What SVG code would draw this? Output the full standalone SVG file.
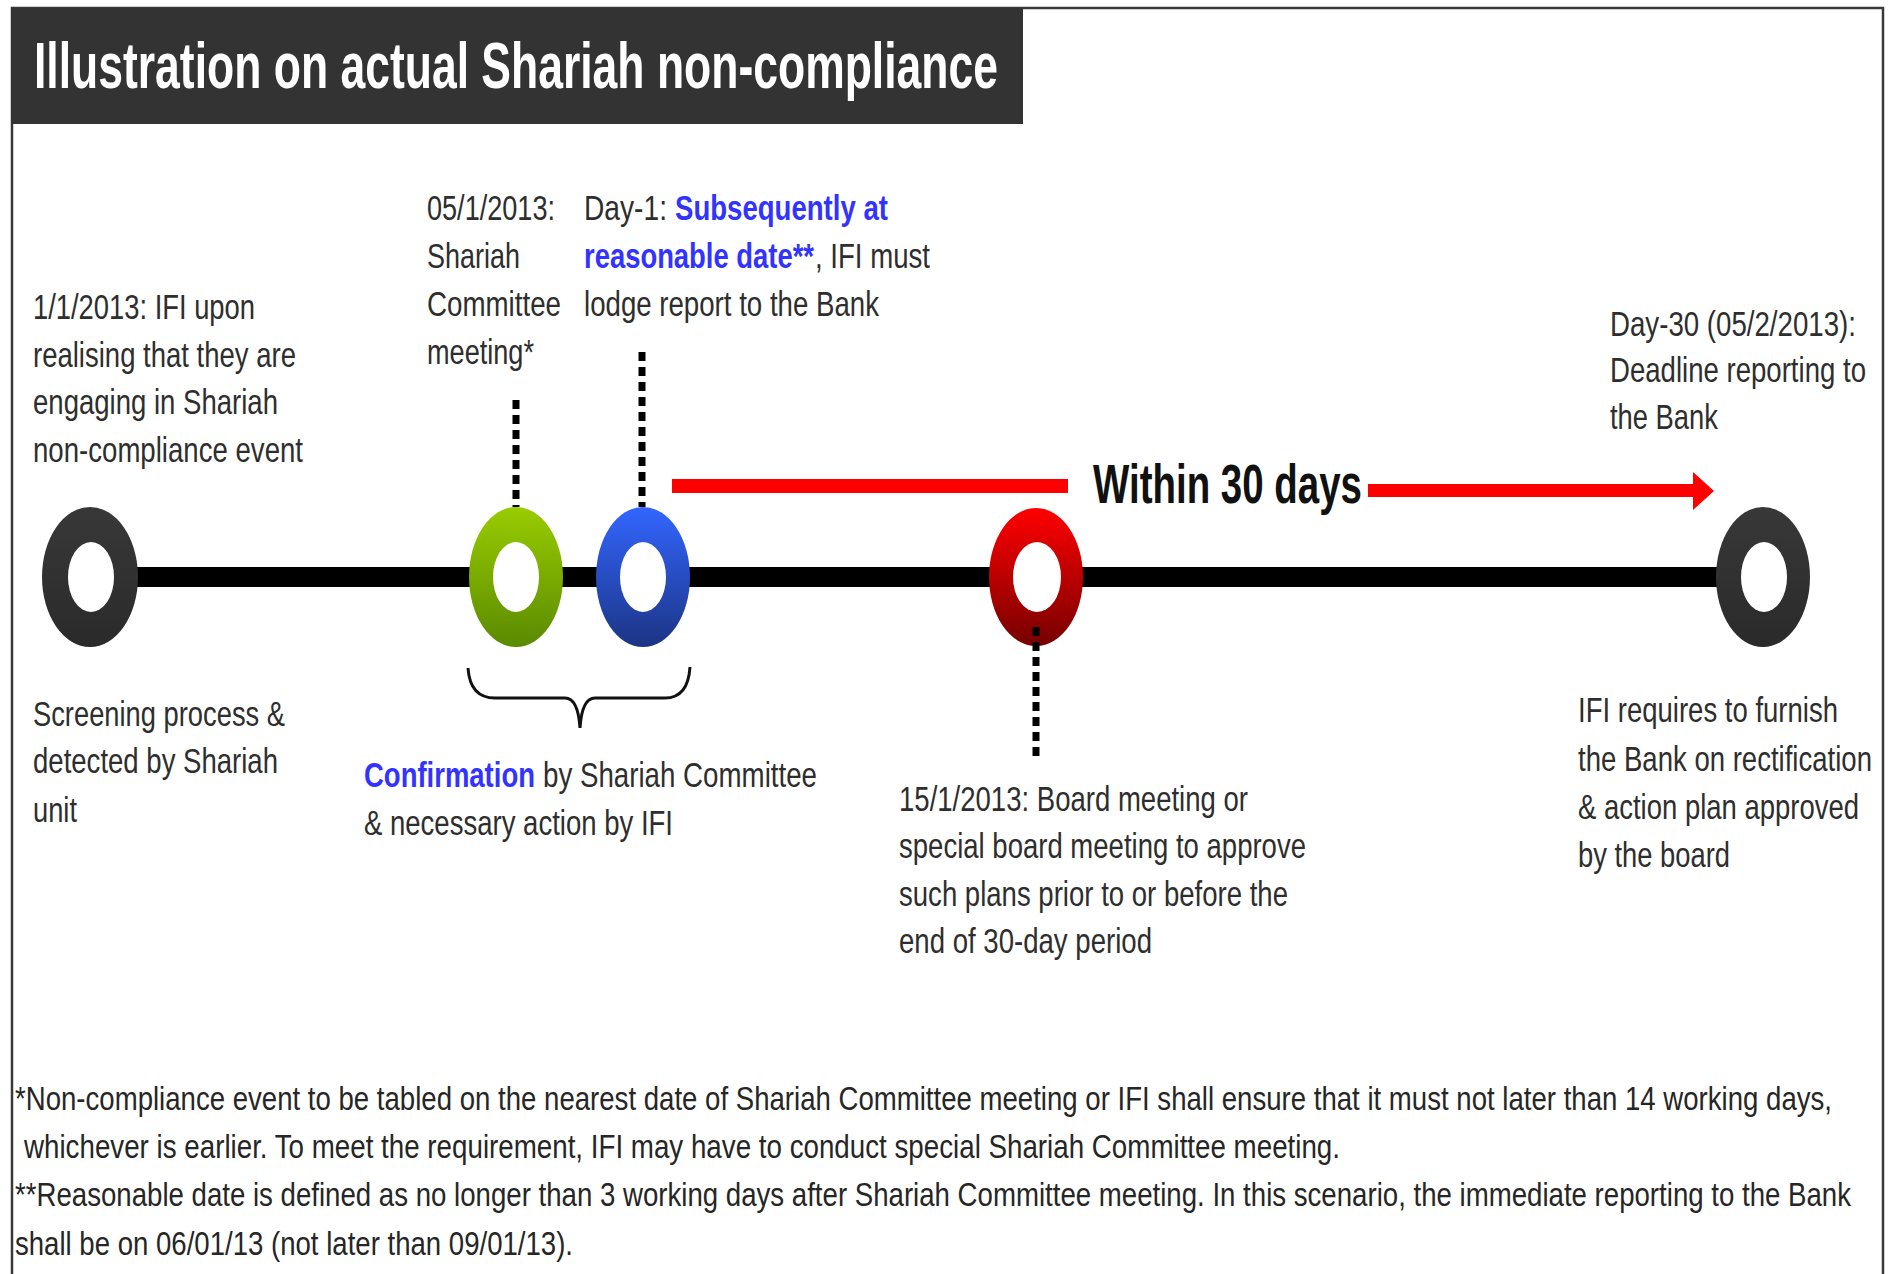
<svg xmlns="http://www.w3.org/2000/svg" width="1890" height="1274" viewBox="0 0 1890 1274">
<defs>
<style>
.t{font-family:"Liberation Sans",Arial,sans-serif;font-size:35px;fill:#2e2e2e}
.b{font-weight:bold;fill:#3333ff}
.fn{font-family:"Liberation Sans",Arial,sans-serif;font-size:33px;fill:#262626}
.dot{stroke:#000;stroke-width:7;stroke-dasharray:9 6;fill:none}
.hole{fill:#fff}
</style>
<linearGradient id="gGreen" x1="0" y1="0" x2="0" y2="1"><stop offset="0" stop-color="#9c0"/><stop offset="1" stop-color="#5a8a00"/></linearGradient>
<linearGradient id="gBlue" x1="0" y1="0" x2="0" y2="1"><stop offset="0" stop-color="#3366ff"/><stop offset="1" stop-color="#1c3484"/></linearGradient>
<linearGradient id="gRed" x1="0" y1="0" x2="0" y2="1"><stop offset="0" stop-color="#ff0000"/><stop offset="1" stop-color="#760000"/></linearGradient>
<linearGradient id="gBlack" x1="0" y1="0" x2="0" y2="1"><stop offset="0" stop-color="#383838"/><stop offset="1" stop-color="#2a2a2a"/></linearGradient>
</defs>
<rect x="0" y="0" width="1890" height="1274" fill="#fff"/>
<g id="frame" fill="none" stroke="#3a3a3a" stroke-width="2.5">
<path d="M12,1274 V8 H1883 V1274"/>
</g>
<g id="title">
<rect x="11" y="8" width="1012" height="116" fill="#333"/>
<g transform="scale(0.57,1)">
<text x="59.65" y="88" font-family="Liberation Sans,Arial,sans-serif" font-weight="bold" font-size="65" fill="#fff" textLength="1691.2" lengthAdjust="spacingAndGlyphs">Illustration on actual Shariah non-compliance</text>
</g>
</g>
<g id="connectors">
<rect id="timeline" x="118" y="567" width="1625" height="20" fill="#000"/>
<rect x="672" y="479" width="396" height="14" fill="#f00"/>
<path d="M1368,484 H1693 V472 L1714,491 L1693,510 V497 H1368 Z" fill="#f00"/>
<path d="M468,668 Q470,698 495,698 L565,698 Q578,698 580,728 Q582,698 595,698 L665,698 Q688,698 690,667" fill="none" stroke="#111" stroke-width="3"/>
</g>
<g id="n-start">
<ellipse cx="90" cy="577" rx="48" ry="70" fill="url(#gBlack)"/>
<ellipse class="hole" cx="91" cy="577" rx="23" ry="35"/>
<g transform="scale(0.75,1)">
<text class="t" x="44" y="319" textLength="296" lengthAdjust="spacingAndGlyphs">1/1/2013: IFI upon</text>
<text class="t" x="44" y="367" textLength="350.67" lengthAdjust="spacingAndGlyphs">realising that they are</text>
<text class="t" x="44" y="414" textLength="326.67" lengthAdjust="spacingAndGlyphs">engaging in Shariah</text>
<text class="t" x="44" y="462" textLength="360" lengthAdjust="spacingAndGlyphs">non-compliance event</text>
<text class="t" x="44" y="726" textLength="336" lengthAdjust="spacingAndGlyphs">Screening process &amp;</text>
<text class="t" x="44" y="773" textLength="326.67" lengthAdjust="spacingAndGlyphs">detected by Shariah</text>
<text class="t" x="44" y="822" textLength="58.67" lengthAdjust="spacingAndGlyphs">unit</text>
</g>
</g>
<g id="n-committee">
<ellipse cx="516" cy="577" rx="47" ry="70" fill="url(#gGreen)"/>
<ellipse class="hole" cx="516" cy="577" rx="23" ry="35"/>
<line class="dot" x1="516" y1="400" x2="516" y2="507"/>
<g transform="scale(0.75,1)">
<text class="t" x="569.33" y="220" textLength="170.67" lengthAdjust="spacingAndGlyphs">05/1/2013:</text>
<text class="t" x="569.33" y="268" textLength="124" lengthAdjust="spacingAndGlyphs">Shariah</text>
<text class="t" x="569.33" y="316" textLength="178.67" lengthAdjust="spacingAndGlyphs">Committee</text>
<text class="t" x="569.33" y="364" textLength="142.67" lengthAdjust="spacingAndGlyphs">meeting*</text>
</g>
</g>
<g id="n-report">
<ellipse cx="643" cy="577" rx="47" ry="70" fill="url(#gBlue)"/>
<ellipse class="hole" cx="643" cy="577" rx="23" ry="35"/>
<line class="dot" x1="642" y1="352" x2="642" y2="507"/>
<g transform="scale(0.75,1)">
<text class="t" x="778.67" y="220" textLength="110.67" lengthAdjust="spacingAndGlyphs">Day-1:</text>
<text class="t b" x="900" y="220" textLength="284" lengthAdjust="spacingAndGlyphs">Subsequently at</text>
<text class="t b" x="778.67" y="268" textLength="306.67" lengthAdjust="spacingAndGlyphs">reasonable date**</text>
<text class="t" x="1086.67" y="268" textLength="153.33" lengthAdjust="spacingAndGlyphs">, IFI must</text>
<text class="t" x="778.67" y="316" textLength="393.33" lengthAdjust="spacingAndGlyphs">lodge report to the Bank</text>
</g>
</g>
<g id="n-confirmation">
<g transform="scale(0.75,1)">
<text class="t b" x="485.33" y="787" textLength="228" lengthAdjust="spacingAndGlyphs">Confirmation</text>
<text class="t" x="724" y="787" textLength="365.33" lengthAdjust="spacingAndGlyphs">by Shariah Committee</text>
<text class="t" x="485.33" y="835" textLength="412" lengthAdjust="spacingAndGlyphs">&amp; necessary action by IFI</text>
</g>
</g>
<g id="n-board">
<ellipse cx="1036" cy="577" rx="47" ry="69" fill="url(#gRed)"/>
<ellipse class="hole" cx="1037" cy="577" rx="24" ry="35"/>
<line class="dot" x1="1036" y1="627" x2="1036" y2="760"/>
<g transform="scale(0.75,1)">
<text class="t" x="1198.67" y="811" textLength="465.33" lengthAdjust="spacingAndGlyphs">15/1/2013: Board meeting or</text>
<text class="t" x="1198.67" y="858" textLength="542.67" lengthAdjust="spacingAndGlyphs">special board meeting to approve</text>
<text class="t" x="1198.67" y="906" textLength="518.67" lengthAdjust="spacingAndGlyphs">such plans prior to or before the</text>
<text class="t" x="1198.67" y="953" textLength="337.33" lengthAdjust="spacingAndGlyphs">end of 30-day period</text>
</g>
</g>
<g id="n-deadline">
<ellipse cx="1763" cy="577" rx="47" ry="70" fill="url(#gBlack)"/>
<ellipse class="hole" cx="1764" cy="577" rx="23" ry="35"/>
<g transform="scale(0.75,1)">
<text class="t" x="2146.67" y="336" textLength="328" lengthAdjust="spacingAndGlyphs">Day-30 (05/2/2013):</text>
<text class="t" x="2146.67" y="382" textLength="341.33" lengthAdjust="spacingAndGlyphs">Deadline reporting to</text>
<text class="t" x="2146.67" y="429" textLength="144" lengthAdjust="spacingAndGlyphs">the Bank</text>
<text class="t" x="2104" y="722" textLength="346.67" lengthAdjust="spacingAndGlyphs">IFI requires to furnish</text>
<text class="t" x="2104" y="771" textLength="392" lengthAdjust="spacingAndGlyphs">the Bank on rectification</text>
<text class="t" x="2104" y="819" textLength="374.67" lengthAdjust="spacingAndGlyphs">&amp; action plan approved</text>
<text class="t" x="2104" y="867" textLength="202.67" lengthAdjust="spacingAndGlyphs">by the board</text>
</g>
</g>
<g id="within">
<g transform="scale(0.61,1)">
<text x="1791.8" y="503" font-family="Liberation Sans,Arial,sans-serif" font-weight="bold" font-size="56" fill="#111" textLength="441" lengthAdjust="spacingAndGlyphs">Within 30 days</text>
</g>
</g>
<g id="footnotes">
<g transform="scale(0.8,1)">
<text class="fn" x="18.75" y="1110" textLength="2271.25" lengthAdjust="spacingAndGlyphs">*Non-compliance event to be tabled on the nearest date of Shariah Committee meeting or IFI shall ensure that it must not later than 14 working days,</text>
<text class="fn" x="30" y="1158" textLength="1645" lengthAdjust="spacingAndGlyphs">whichever is earlier. To meet the requirement, IFI may have to conduct special Shariah Committee meeting.</text>
<text class="fn" x="18.75" y="1206" textLength="2295" lengthAdjust="spacingAndGlyphs">**Reasonable date is defined as no longer than 3 working days after Shariah Committee meeting. In this scenario, the immediate reporting to the Bank</text>
<text class="fn" x="18.75" y="1255" textLength="697.5" lengthAdjust="spacingAndGlyphs">shall be on 06/01/13 (not later than 09/01/13).</text>
</g>
</g>
</svg>
